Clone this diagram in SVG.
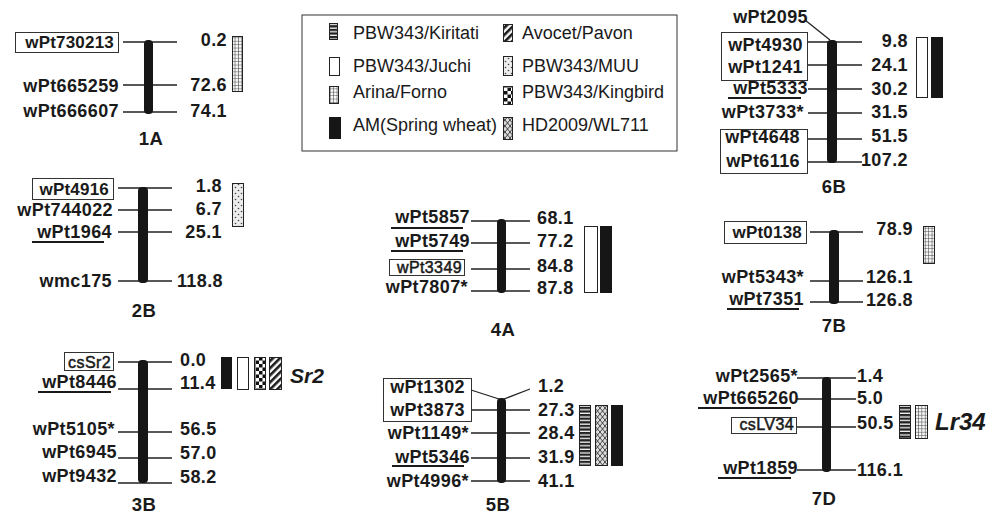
<svg xmlns="http://www.w3.org/2000/svg" width="987" height="515" viewBox="0 0 987 515">
<style>
.lb{font-family:"Liberation Sans",Arial,sans-serif;font-weight:bold;font-size:18px;letter-spacing:0.4px;fill:#1a1a1a}
.e{text-anchor:end}
.bl{font-size:17px;letter-spacing:0.2px}
.sm{font-weight:normal;font-size:16px;letter-spacing:0.4px;stroke:#1a1a1a;stroke-width:0.5}
.ch{font-size:18.5px;text-anchor:middle}
.lg{font-family:"Liberation Sans",Arial,sans-serif;font-size:18px;fill:#1a1a1a}
.gene{font-family:"Liberation Sans",Arial,sans-serif;font-style:italic;font-weight:bold;fill:#1a1a1a}
.bx{fill:none;stroke:#333;stroke-width:1}
.ul{stroke:#1a1a1a;stroke-width:2}
.chr{fill:#161616}
.tk{stroke:#222;stroke-width:1.3;fill:none}
.qb{stroke:#222;stroke-width:1}
</style>
<defs>
<pattern id="pStripe" width="4" height="3.6" patternUnits="userSpaceOnUse"><rect width="4" height="3.6" fill="#f4f4f4"/><rect width="4" height="2.3" fill="#222"/></pattern>
<pattern id="pGrid" width="3.4" height="3.4" patternUnits="userSpaceOnUse"><rect width="3.4" height="3.4" fill="#f6f6f6"/><path d="M0 0H3.4M0 0V3.4" stroke="#333" stroke-width="1"/></pattern>
<pattern id="pDots" width="6" height="6" patternUnits="userSpaceOnUse"><rect width="6" height="6" fill="#ececec"/><circle cx="1.5" cy="1.5" r="0.8" fill="#444"/><circle cx="4.5" cy="4.5" r="0.8" fill="#444"/></pattern>
<pattern id="pCheck" width="7" height="7" patternUnits="userSpaceOnUse"><rect width="7" height="7" fill="#fff"/><rect width="3.5" height="3.5" fill="#111"/><rect x="3.5" y="3.5" width="3.5" height="3.5" fill="#111"/></pattern>
<pattern id="pHatch" width="5" height="5" patternUnits="userSpaceOnUse" patternTransform="rotate(45)"><rect width="5" height="5" fill="#fff"/><rect width="2.6" height="5" fill="#1a1a1a"/></pattern>
<pattern id="pCross" width="5" height="6" patternUnits="userSpaceOnUse"><rect width="5" height="6" fill="#dcdcdc"/><path d="M0 0L5 6M5 0L0 6" stroke="#333" stroke-width="0.9"/></pattern>
</defs>

<g id="connectors">
<path class="tk" d="M123 42H177M123 85H177M123 112H177"/>
<path class="tk" d="M805 20L830 40M808 42H862M808 65H862M808 89H862M808 113H862M808 139H862M808 162H862"/>
<path class="tk" d="M118 188H172M118 210H172M118 232H172M118 281H172"/>
<path class="tk" d="M471 221H530M471 243H530M471 269H530M471 291H530"/>
<path class="tk" d="M810 232H863M810 281H863M810 302H863"/>
<path class="tk" d="M118 362H172M118 389H172M118 432H172M118 458H172M118 483H172"/>
<path class="tk" d="M471 390L499 399M504 399L530 389M471 410H530M471 433H530M471 458H530M471 481H530"/>
<path class="tk" d="M797 378H856M797 399H856M797 427H856M797 470H856"/>
</g>

<g id="legend">
<rect x="302" y="15" width="375" height="136" fill="#fff" stroke="#333" stroke-width="1"/>
<rect class="qb" x="329.5" y="23.5" width="8" height="16" fill="url(#pStripe)"/>
<rect class="qb" x="329.5" y="57.5" width="10" height="18" fill="#fff"/>
<rect class="qb" x="329.5" y="86.5" width="9" height="17" fill="url(#pGrid)"/>
<rect x="329" y="117" width="12" height="22" fill="#161616"/>
<text class="lg" x="353" y="39">PBW343/Kiritati</text>
<text class="lg" x="353" y="72">PBW343/Juchi</text>
<text class="lg" x="353" y="98">Arina/Forno</text>
<text class="lg" x="353" y="131">AM(Spring wheat)</text>
<rect class="qb" x="503.5" y="24.5" width="9" height="17" fill="url(#pHatch)"/>
<rect class="qb" x="503.5" y="56.5" width="9" height="19" fill="url(#pDots)"/>
<rect class="qb" x="503.5" y="86.5" width="9" height="18" fill="url(#pCheck)"/>
<rect class="qb" x="503.5" y="117.5" width="9" height="22" fill="url(#pCross)"/>
<text class="lg" x="522" y="39">Avocet/Pavon</text>
<text class="lg" x="522" y="72">PBW343/MUU</text>
<text class="lg" x="522" y="98">PBW343/Kingbird</text>
<text class="lg" x="522" y="131">HD2009/WL711</text>
</g>

<g id="chr-1A">
<rect class="bx" x="15.5" y="32.5" width="103" height="20"/>
<text class="lb bl e" x="114" y="48">wPt730213</text>
<text class="lb e" x="119" y="92">wPt665259</text>
<text class="lb e" x="119" y="117">wPt666607</text>
<rect class="chr" x="144" y="40" width="9" height="74" rx="4"/>
<text class="lb e" x="227" y="46">0.2</text>
<text class="lb e" x="227" y="91">72.6</text>
<text class="lb e" x="227" y="117">74.1</text>
<text class="lb ch" x="151" y="145">1A</text>
<rect class="qb" x="232.5" y="36.5" width="10" height="55" fill="url(#pGrid)"/>
</g>

<g id="chr-6B">
<text class="lb e" x="808" y="23">wPt2095</text>
<rect class="bx" x="721.5" y="32.5" width="86" height="48"/>
<text class="lb e" x="803" y="51">wPt4930</text>
<text class="lb e" x="803" y="73">wPt1241</text>
<text class="lb e" x="808" y="94">wPt5333</text>
<line class="ul" x1="728" y1="98" x2="801" y2="98"/>
<text class="lb e" x="804" y="118">wPt3733*</text>
<rect class="bx" x="720.5" y="129.5" width="87" height="44"/>
<text class="lb e" x="800" y="143">wPt4648</text>
<text class="lb e" x="800" y="167">wPt6116</text>
<rect class="chr" x="827" y="40" width="10" height="123" rx="4"/>
<text class="lb e" x="908" y="47">9.8</text>
<text class="lb e" x="908" y="71">24.1</text>
<text class="lb e" x="908" y="95">30.2</text>
<text class="lb e" x="908" y="118">31.5</text>
<text class="lb e" x="908" y="142">51.5</text>
<text class="lb e" x="908" y="166">107.2</text>
<text class="lb ch" x="834" y="193">6B</text>
<rect class="qb" x="916.5" y="37.5" width="11" height="60" fill="#fff"/>
<rect x="931" y="37" width="12" height="61" fill="#161616"/>
</g>

<g id="chr-2B">
<rect class="bx" x="32.5" y="178.5" width="81" height="21"/>
<text class="lb bl e" x="109" y="195">wPt4916</text>
<text class="lb e" x="113" y="216">wPt744022</text>
<text class="lb e" x="112" y="238">wPt1964</text>
<line class="ul" x1="32" y1="242" x2="104" y2="242"/>
<text class="lb e" x="112" y="287">wmc175</text>
<rect class="chr" x="138" y="187" width="10" height="96" rx="4"/>
<text class="lb e" x="222" y="192">1.8</text>
<text class="lb e" x="222" y="215">6.7</text>
<text class="lb e" x="222" y="238">25.1</text>
<text class="lb e" x="223" y="287">118.8</text>
<text class="lb ch" x="144" y="317">2B</text>
<rect class="qb" x="232.5" y="183.5" width="11" height="43" fill="url(#pDots)"/>
</g>

<g id="chr-4A">
<text class="lb e" x="470" y="223">wPt5857</text>
<line class="ul" x1="391" y1="228" x2="463" y2="228"/>
<text class="lb e" x="470" y="247">wPt5749</text>
<line class="ul" x1="391" y1="251" x2="463" y2="251"/>
<rect class="bx" x="389.5" y="259.5" width="75" height="16"/>
<text class="lb sm e" x="462" y="273">wPt3349</text>
<text class="lb e" x="468" y="293">wPt7807*</text>
<rect class="chr" x="497" y="219" width="9" height="74" rx="4"/>
<text class="lb" x="537" y="224">68.1</text>
<text class="lb" x="537" y="247">77.2</text>
<text class="lb" x="537" y="272">84.8</text>
<text class="lb" x="537" y="294">87.8</text>
<text class="lb ch" x="503" y="336">4A</text>
<rect class="qb" x="584.5" y="226.5" width="13" height="66" fill="#fff"/>
<rect x="600" y="226" width="12" height="67" fill="#161616"/>
</g>

<g id="chr-7B">
<rect class="bx" x="724.5" y="221.5" width="82" height="22"/>
<text class="lb bl e" x="802" y="238">wPt0138</text>
<text class="lb e" x="804" y="283">wPt5343*</text>
<text class="lb e" x="804" y="305">wPt7351</text>
<line class="ul" x1="727" y1="309" x2="799" y2="309"/>
<rect class="chr" x="829" y="230" width="10" height="74" rx="4"/>
<text class="lb e" x="913" y="235">78.9</text>
<text class="lb e" x="913" y="283">126.1</text>
<text class="lb e" x="913" y="306">126.8</text>
<text class="lb ch" x="834" y="332">7B</text>
<rect class="qb" x="923.5" y="226.5" width="11" height="37" fill="url(#pGrid)"/>
</g>

<g id="chr-3B">
<rect class="bx" x="64.5" y="352.5" width="49" height="18"/>
<text class="lb sm e" x="111" y="368">csSr2</text>
<text class="lb e" x="117" y="388">wPt8446</text>
<line class="ul" x1="38" y1="392" x2="111" y2="392"/>
<text class="lb e" x="115" y="435">wPt5105*</text>
<text class="lb e" x="117" y="458">wPt6945</text>
<text class="lb e" x="117" y="482">wPt9432</text>
<rect class="chr" x="138" y="360" width="10" height="123" rx="4"/>
<text class="lb" x="180" y="366">0.0</text>
<text class="lb" x="180" y="389">11.4</text>
<text class="lb" x="180" y="435">56.5</text>
<text class="lb" x="180" y="459">57.0</text>
<text class="lb" x="180" y="483">58.2</text>
<text class="lb ch" x="144" y="511">3B</text>
<rect x="221" y="357" width="11" height="32" fill="#161616"/>
<rect class="qb" x="237.5" y="357.5" width="11" height="32" fill="#fff"/>
<rect class="qb" x="254.5" y="357.5" width="11" height="32" fill="url(#pCheck)"/>
<rect class="qb" x="269.5" y="357.5" width="12" height="32" fill="url(#pHatch)"/>
<text class="gene" x="290" y="383" font-size="21">Sr2</text>
</g>

<g id="chr-5B">
<rect class="bx" x="383.5" y="378.5" width="88" height="43"/>
<text class="lb e" x="465" y="393">wPt1302</text>
<text class="lb e" x="465" y="416">wPt3873</text>
<text class="lb e" x="469" y="439">wPt1149*</text>
<text class="lb e" x="470" y="463">wPt5346</text>
<line class="ul" x1="392" y1="466" x2="464" y2="466"/>
<text class="lb e" x="469" y="487">wPt4996*</text>
<rect class="chr" x="497" y="398" width="9" height="85" rx="4"/>
<text class="lb" x="538" y="392">1.2</text>
<text class="lb" x="538" y="416">27.3</text>
<text class="lb" x="538" y="439">28.4</text>
<text class="lb" x="538" y="463">31.9</text>
<text class="lb" x="538" y="487">41.1</text>
<text class="lb ch" x="498" y="511">5B</text>
<rect class="qb" x="579.5" y="405.5" width="11" height="60" fill="url(#pStripe)"/>
<rect class="qb" x="595.5" y="405.5" width="12" height="60" fill="url(#pCross)"/>
<rect x="611" y="405" width="12" height="61" fill="#161616"/>
</g>

<g id="chr-7D">
<text class="lb e" x="798" y="382">wPt2565*</text>
<text class="lb e" x="799" y="404">wPt665260</text>
<line class="ul" x1="698" y1="408" x2="791" y2="408"/>
<rect class="bx" x="731.5" y="417.5" width="65" height="16"/>
<text class="lb sm e" x="794" y="430">csLV34</text>
<text class="lb e" x="798" y="474">wPt1859</text>
<line class="ul" x1="718" y1="478" x2="791" y2="478"/>
<rect class="chr" x="822" y="377" width="9" height="95" rx="4"/>
<text class="lb" x="857" y="382">1.4</text>
<text class="lb" x="857" y="404">5.0</text>
<text class="lb" x="857" y="429">50.5</text>
<text class="lb" x="857" y="476">116.1</text>
<text class="lb ch" x="824" y="505">7D</text>
<rect class="qb" x="899.5" y="405.5" width="11" height="33" fill="url(#pStripe)"/>
<rect class="qb" x="915.5" y="405.5" width="12" height="33" fill="url(#pGrid)"/>
<text class="gene" x="935" y="430" font-size="24">Lr34</text>
</g>
</svg>
